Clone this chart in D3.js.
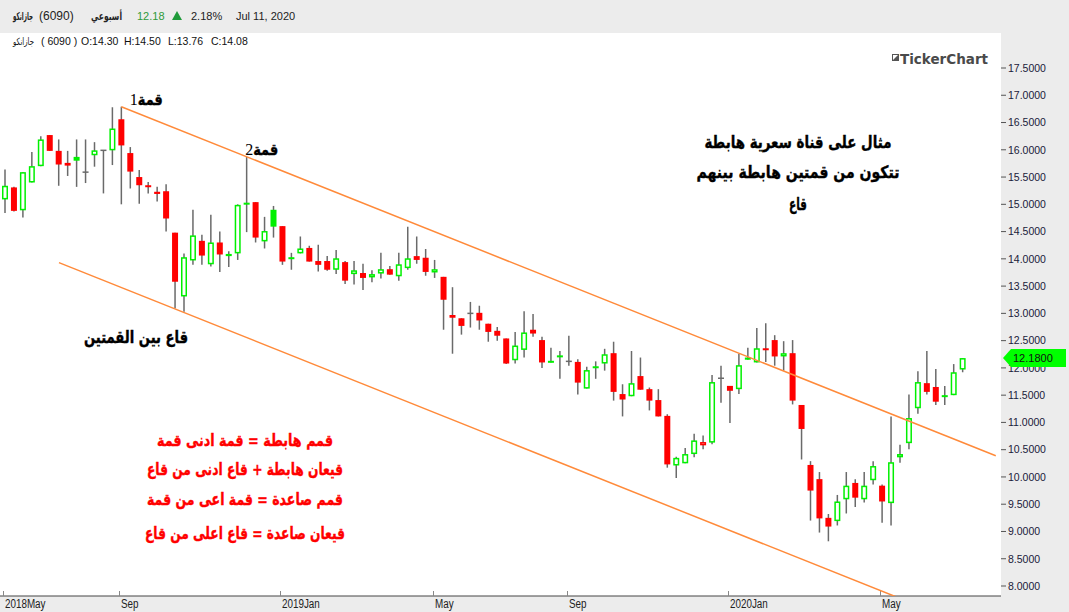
<!DOCTYPE html>
<html><head><meta charset="utf-8">
<script src="https://cdn.jsdelivr.net/npm/d3@7"></script>
<style>body{margin:0;background:#ececec;} svg{display:block}</style>
</head><body>
<svg id="chart" width="1069" height="612"></svg>
<script>
// ---- weekly candles (6090 جازانكو) ----
const openP = [15.09,15.31,14.89,15.40,15.70,16.27,15.98,15.76,15.87,15.59,15.90,15.99,15.99,16.56,15.94,15.50,15.35,15.23,15.24,14.48,
13.31,13.97,14.33,13.90,14.30,14.05,14.10,15.03,15.04,14.32,14.90,14.60,14.03,14.10,14.20,13.96,13.96,13.80,13.94,13.72,
13.74,13.66,13.73,13.81,13.68,13.83,14.05,14.02,13.75,13.67,12.97,12.91,13.00,13.01,12.81,12.68,12.54,12.14,12.33,12.70,
12.51,12.13,12.23,12.12,12.11,11.62,12.03,12.08,12.27,11.52,11.48,11.85,11.61,11.41,11.12,10.21,10.25,10.42,10.58,10.63,
11.81,11.67,11.61,12.19,12.10,12.36,12.51,12.21,12.27,11.32,10.22,9.96,9.25,9.19,9.59,9.89,9.59,9.94,9.84,9.52,
10.36,10.62,11.26,11.72,11.65,11.50,11.50,11.97];
const highP = [15.64,15.32,15.59,15.96,16.25,16.27,16.19,15.98,16.19,16.19,16.14,15.99,16.78,16.79,16.05,15.63,15.41,15.32,15.37,14.48,
14.10,14.90,14.44,14.81,14.50,14.14,15.00,15.87,15.04,14.77,14.97,14.60,14.11,14.41,14.24,14.26,14.05,14.16,13.96,13.96,
13.91,13.79,14.11,13.87,14.11,14.59,14.41,14.18,13.98,13.67,13.48,12.91,13.21,13.14,12.81,12.75,12.54,12.66,13.04,12.99,
12.57,12.37,12.31,12.59,12.16,12.02,12.12,12.35,12.48,11.70,12.31,12.19,11.64,11.61,11.15,10.37,10.53,10.79,10.76,11.87,
12.04,11.67,12.26,12.37,12.73,12.82,12.60,12.49,12.51,11.32,10.29,10.09,9.32,9.67,10.09,9.96,10.09,10.29,9.86,11.11,
10.59,11.51,11.94,12.31,11.98,11.67,12.07,12.18];
const lowP = [14.84,14.87,14.76,15.40,15.70,15.98,15.34,15.52,15.32,15.39,15.69,15.20,15.72,15.00,15.29,15.01,15.20,15.05,14.50,13.09,
13.03,13.89,13.89,13.86,13.76,13.85,13.98,14.49,14.30,14.19,14.39,13.89,13.80,14.10,13.95,13.77,13.78,13.72,13.54,13.53,
13.43,13.57,13.64,13.71,13.60,13.80,13.91,13.69,13.65,12.70,12.26,12.61,12.74,12.70,12.48,12.50,12.07,12.08,12.19,12.57,
12.00,12.10,11.80,12.04,11.51,11.62,11.80,11.95,11.40,11.11,11.48,11.60,11.22,11.11,10.17,9.98,10.25,10.36,10.51,10.60,
11.36,10.99,11.52,12.15,12.10,12.11,12.04,11.95,11.33,10.32,9.20,8.98,8.82,9.11,9.33,9.45,9.53,9.86,9.16,9.11,
10.26,10.51,11.16,11.51,11.32,11.32,11.50,11.92];
const closeP = [15.34,14.88,15.59,15.70,16.19,15.98,15.73,15.71,15.80,15.59,15.99,15.99,16.39,16.08,15.60,15.35,15.32,15.19,14.74,13.58,
14.03,14.43,14.06,14.30,14.08,14.09,14.99,15.00,14.39,14.51,14.59,13.95,14.00,14.19,13.95,13.89,13.80,14.01,13.60,13.79,
13.65,13.72,13.81,13.71,13.90,14.01,13.98,13.76,13.81,13.25,12.92,12.77,13.00,12.87,12.66,12.59,12.08,12.41,12.65,12.63,
12.10,12.11,12.21,12.12,11.73,11.96,12.01,12.25,11.56,11.42,11.72,11.60,11.40,11.11,10.23,10.35,10.42,10.67,10.64,11.74,
11.81,11.58,12.05,12.15,12.36,12.33,12.21,12.27,11.40,10.88,9.75,9.24,9.09,9.55,9.84,9.62,9.84,10.20,9.55,10.27,
10.42,11.08,11.74,11.56,11.38,11.47,11.92,12.18];

// x-axis tick labels (week index of first trading week of month)
const tickIndex = [0,13,31,48,63,81,98];
const tickLabels = ["2018May","Sep","2019Jan","May","Sep","2020Jan","May"];
const yTicks = [8,8.5,9,9.5,10,10.5,11,11.5,12,12.5,13,13.5,14,14.5,15,15.5,16,16.5,17,17.5];

// channel lines: [weekIndex, price]
const upperChannel = [[13,16.79],[110.7,10.39]];
const lowerChannel = [[6.03,13.93],[106,7.38]];

const lastPrice = 12.18;
const header = {name:"جازانكو", code:"(6090)", period:"أسبوعي", price:"12.18", change:"2.18%", date:"Jul 11, 2020"};
const ohlcLabel = ["O:14.30","H:14.50","L:13.76","C:14.08"];
const noteRight = ["مثال على قناة سعرية هابطة","تتكون من قمتين هابطة بينهم","قاع"];
const noteRed = ["قمم هابطة = قمة ادنى قمة","قيعان هابطة + قاع ادنى من قاع","قمم صاعدة = قمة اعى من قمة","قيعان صاعدة = قاع اعلى من قاع"];
const noteBottom = "قاع بين القمتين";
const peakLabels = [{idx:13, n:"1", t:"قمة"},{idx:27, n:"2", t:"قمة"}];

// ---- layout ----
const W = 1069, H = 612;
const plot = {l:0, t:33, r:1001, b:596};
const svg = d3.select("#chart");
const x = d3.scaleLinear().domain([0,107]).range([5, 962.65]);
const y = d3.scaleLinear().domain([8,17.5]).range([586,68]);

svg.append("rect").attr("width",W).attr("height",H).attr("fill","#ececec");
svg.append("rect").attr("x",plot.l).attr("y",plot.t).attr("width",plot.r-plot.l).attr("height",plot.b-plot.t).attr("fill","#fff");

svg.append("defs").append("clipPath").attr("id","clip")
  .append("rect").attr("x",plot.l).attr("y",plot.t).attr("width",plot.r-plot.l).attr("height",plot.b-plot.t);

const AR = "'DejaVu Sans', sans-serif";
const LAT = "'Liberation Sans', Arial, 'DejaVu Sans', sans-serif";

function fit(sel, w){ sel.attr("textLength", w).attr("lengthAdjust","spacingAndGlyphs"); return sel; }

// header
const hd = svg.append("g").attr("font-family",LAT).attr("font-size",11.5);
fit(hd.append("text").attr("x",13).attr("y",20).attr("font-family",AR).attr("font-size",11).attr("font-weight","bold").attr("fill","#222").text(header.name),20);
hd.append("text").attr("x",39).attr("y",20).attr("font-size",12).attr("fill","#222").text(header.code);
fit(hd.append("text").attr("x",91).attr("y",20).attr("font-family",AR).attr("font-size",11).attr("font-weight","bold").attr("fill","#222").text(header.period),31);
hd.append("text").attr("x",137).attr("y",20).attr("font-size",11).attr("fill","#2e9a3a").text(header.price);
hd.append("path").attr("d","M172,20 L182,20 L177,11 Z").attr("fill","#1f9a3a");
hd.append("text").attr("x",191).attr("y",20).attr("font-size",11).attr("fill","#222").text(header.change);
hd.append("text").attr("x",236).attr("y",20).attr("font-size",11).attr("fill","#222").text(header.date);

const l2 = svg.append("g").attr("font-family",LAT).attr("font-size",10.5).attr("fill","#111");
fit(l2.append("text").attr("x",13).attr("y",45).attr("font-family",AR).attr("font-size",10).text(header.name),21);
l2.append("text").attr("x",41).attr("y",45).text("( 6090 )");
const ohlcX = [81,124,168,211];
ohlcLabel.forEach((s,i)=> l2.append("text").attr("x",ohlcX[i]).attr("y",45).text(s));

// logo
const logo = svg.append("g");
logo.append("rect").attr("x",892.5).attr("y",54.5).attr("width",6).attr("height",6).attr("fill","#fff").attr("stroke","#555").attr("stroke-width",1);
logo.append("path").attr("d","M892.5,60.5 L898.5,54.5 L898.5,60.5 Z").attr("fill","#555");
logo.append("text").attr("x",900).attr("y",64).attr("font-family","'DejaVu Sans', sans-serif").attr("font-weight","bold").attr("font-size",13.5).attr("fill","#4a4a4a").text("TickerChart");

// y axis (right)
const ya = svg.append("g");
yTicks.forEach(v=>{
  ya.append("line").attr("x1",1001).attr("x2",1006).attr("y1",y(v)).attr("y2",y(v)).attr("stroke","#555");
  ya.append("text").attr("x",1008).attr("y",y(v)).attr("dy","0.36em").attr("font-family",LAT).attr("font-size",10.5).attr("fill","#1a1a3a").text(v.toFixed(4));
});

// x axis
svg.append("line").attr("x1",0).attr("x2",plot.r).attr("y1",plot.b).attr("y2",plot.b).attr("stroke","#444").attr("stroke-width",1);
tickIndex.forEach((ix,k)=>{
  const px = Math.round(x(ix))-1.5;
  svg.append("line").attr("x1",px).attr("x2",px).attr("y1",plot.b-5).attr("y2",plot.b).attr("stroke","#888");
  const t = svg.append("text").attr("x",px+1.5).attr("y",608).attr("font-family",LAT).attr("font-size",12).attr("fill","#222").text(tickLabels[k]);
  const w = t.node().getComputedTextLength();
  fit(t, w*0.82);
});

// candles
const GREEN = "#00f000", RED = "#ff0000", WICK = "#6a6a6a";
const cg = svg.append("g").attr("clip-path","url(#clip)");
openP.forEach((o,i)=>{
  const c = closeP[i], h = highP[i], l = lowP[i];
  const cx = x(i);
  const prev = i>0 ? closeP[i-1] : o;
  cg.append("line").attr("x1",cx).attr("x2",cx).attr("y1",y(h)).attr("y2",y(l)).attr("stroke",WICK).attr("stroke-width",1.5);
  if (Math.abs(o-c) < 0.001) {
    cg.append("line").attr("x1",cx-3).attr("x2",cx+3).attr("y1",y(c)).attr("y2",y(c)).attr("stroke",WICK).attr("stroke-width",1.5);
    return;
  }
  const col = c >= prev ? GREEN : RED;
  const top = y(Math.max(o,c)), bot = y(Math.min(o,c));
  if (c > o) {
    cg.append("rect").attr("x",cx-2.25).attr("y",top+0.75).attr("width",4.5).attr("height",Math.max(bot-top-1.5,0.5))
      .attr("fill","#fff").attr("stroke",col).attr("stroke-width",1.5);
  } else {
    const hh = Math.max(bot-top,2);
    cg.append("rect").attr("x",cx-3).attr("y",top).attr("width",6).attr("height",hh).attr("fill",col);
  }
});

// channel lines
const line = d3.line().x(d=>x(d[0])).y(d=>y(d[1]));
[upperChannel, lowerChannel].forEach(ch=>{
  cg.append("path").attr("d",line(ch)).attr("fill","none").attr("stroke","#ff8a3a").attr("stroke-width",1.5);
});

// peak labels
const peakOffset = [8.5, -1.5];
peakLabels.forEach((p,k)=>{
  const px = x(p.idx) + peakOffset[k], py = y(highP[p.idx]) - 1.5;
  svg.append("text").attr("x",px).attr("y",py).attr("font-family","'Liberation Serif',serif").attr("font-size",16).attr("fill","#000").text(p.n);
  fit(svg.append("text").attr("x",px+8).attr("y",py).attr("font-family",AR).attr("font-weight","bold").attr("font-size",16)
    .attr("fill","#000").attr("stroke","#000").attr("stroke-width",0.4).text(p.t),25);
});

// notes
fit(svg.append("text").attr("x",84).attr("y",343)
  .attr("font-family",AR).attr("font-weight","bold").attr("font-size",17).attr("fill","#000").attr("stroke","#000").attr("stroke-width",0.4).text(noteBottom),104);

const nr = [148,178,210], nrW = [187,203,18];
noteRight.forEach((s,i)=> fit(svg.append("text").attr("x",798 - nrW[i]/2).attr("y",nr[i])
  .attr("font-family",AR).attr("font-weight","bold").attr("font-size",17).attr("fill","#000").attr("stroke","#000").attr("stroke-width",0.4).text(s), nrW[i]));

const nd = [446,475,505,539], ndW = [176,196,196,200];
noteRed.forEach((s,i)=> fit(svg.append("text").attr("x",245 - ndW[i]/2).attr("y",nd[i])
  .attr("font-family",AR).attr("font-weight","bold").attr("font-size",16.5).attr("fill","#ff0000").attr("stroke","#ff0000").attr("stroke-width",0.4).text(s), ndW[i]));

// last price tag
const yl = y(lastPrice);
svg.append("path").attr("d",`M1003,${yl} L1011,${yl-9} L1066,${yl-9} L1066,${yl+9} L1011,${yl+9} Z`).attr("fill","#00ff00");
svg.append("text").attr("x",1013).attr("y",yl).attr("dy","0.36em").attr("font-family",LAT).attr("font-size",11).attr("fill","#111").text(lastPrice.toFixed(4));
</script>
</body></html>
